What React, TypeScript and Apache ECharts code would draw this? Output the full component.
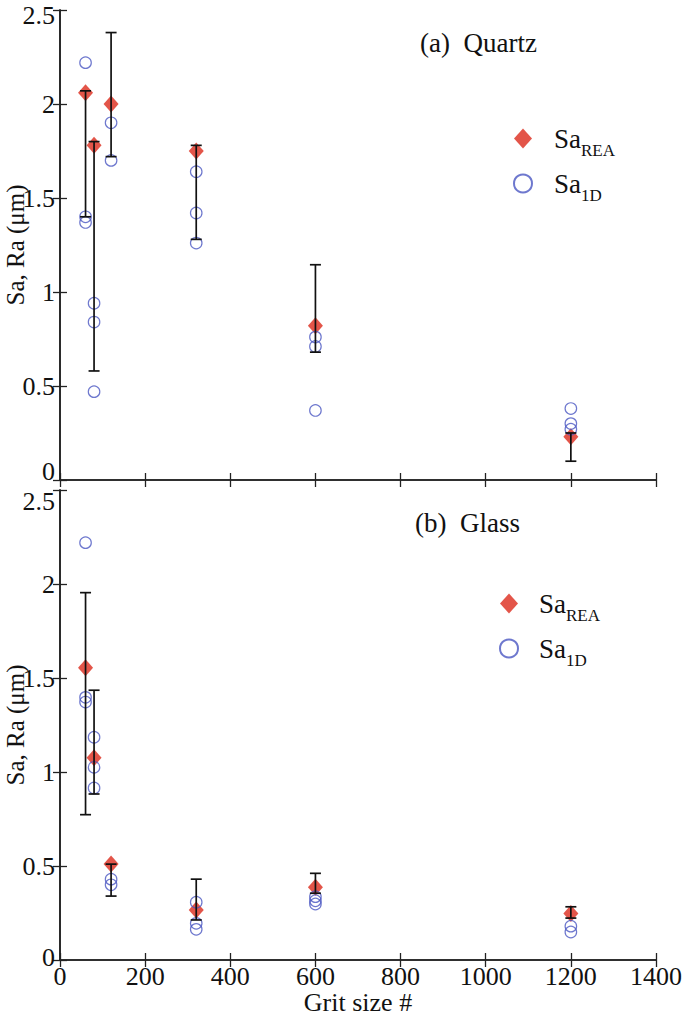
import React, { useEffect, useRef } from "react";
import * as echarts from "echarts";

// ---- data ----
const grit = [60, 80, 120, 320, 600, 1200];
const xTicks = [0, 200, 400, 600, 800, 1000, 1200, 1400];
const yTicks = [0, 0.5, 1, 1.5, 2, 2.5];

// Quartz (panel a)
const saReaQuartz = [2.06, 1.78, 2.0, 1.75, 0.82, 0.23];
const errLowQuartz = [1.4, 0.58, 1.72, 1.28, 0.68, 0.1];
const errHighQuartz = [2.07, 1.8, 2.38, 1.78, 1.145, 0.25];
const sa1dQuartz = [
  [2.22, 1.4, 1.37],
  [0.94, 0.84, 0.47],
  [1.9, 1.7],
  [1.64, 1.42, 1.26],
  [0.76, 0.71, 0.37],
  [0.38, 0.3, 0.27],
];

// Glass (panel b)
const saReaGlass = [1.555, 1.076, 0.51, 0.266, 0.387, 0.248];
const errLowGlass = [0.773, 0.883, 0.34, 0.213, 0.355, 0.223];
const errHighGlass = [1.954, 1.435, 0.51, 0.43, 0.461, 0.283];
const sa1dGlass = [
  [2.22, 1.397, 1.372],
  [1.185, 1.025, 0.915],
  [0.43, 0.4],
  [0.307, 0.195, 0.163],
  [0.337, 0.315, 0.298],
  [0.18, 0.149],
];

const RED = "#dc2a1c";
const BLUE = "#4a56c2";
const FRAME = "#222";
const FONT = "'Liberation Serif', 'Times New Roman', serif";

const pairs = (vals: number[]) => grit.map((g, i) => [g, vals[i]]);
const flat1d = (groups: number[][]) =>
  groups.flatMap((vals, i) => vals.map((v) => [grit[i], v]));
const errData = (lo: number[], hi: number[]) => grit.map((g, i) => [g, lo[i], hi[i]]);

export default function App() {
  const ref = useRef<HTMLDivElement>(null);

  useEffect(() => {
    if (!ref.current) return;
    const chart = echarts.init(ref.current, null, { renderer: "svg" });

    const renderErr = (params: any, api: any) => {
      const x = api.value(0);
      const lo = api.coord([x, api.value(1)]);
      const hi = api.coord([x, api.value(2)]);
      const hw = 5.5;
      const st = { stroke: "#111", lineWidth: 1.7 };
      return {
        type: "group",
        children: [
          { type: "line", shape: { x1: lo[0], y1: lo[1], x2: hi[0], y2: hi[1] }, style: st },
          { type: "line", shape: { x1: lo[0] - hw, y1: lo[1], x2: lo[0] + hw, y2: lo[1] }, style: st },
          { type: "line", shape: { x1: hi[0] - hw, y1: hi[1], x2: hi[0] + hw, y2: hi[1] }, style: st },
        ],
      };
    };

    const grids = [
      { left: 60, top: 10, width: 596, height: 470, containLabel: false, outerBoundsMode: "none" },
      { left: 60, top: 490, width: 596, height: 470, containLabel: false, outerBoundsMode: "none" },
    ];

    const tickStyle = { show: true, inside: true, length: 7, lineStyle: { color: FRAME, width: 1.3 } };
    const lineStyle = { show: true, lineStyle: { color: FRAME, width: 1.6 } };
    const tickText = { color: "#111", fontFamily: FONT, fontSize: 26 };

    const xAxes: any[] = [];
    const yAxes: any[] = [];
    [0, 1].forEach((gi) => {
      xAxes.push({
        type: "value",
        gridIndex: gi,
        position: "bottom",
        min: xTicks[0],
        max: xTicks[xTicks.length - 1],
        interval: 200,
        axisLine: lineStyle,
        axisTick: tickStyle,
        splitLine: { show: false },
        axisLabel: {
          show: gi === 1,
          ...tickText,
          lineHeight: 26,
          margin: 3,
          formatter: (v: number) => String(v),
        },
        name: gi === 1 ? "Grit size #" : "",
        nameLocation: "middle",
        nameGap: 29,
        nameMoveOverlap: false,
        nameTextStyle: { color: "#111", fontFamily: FONT, fontSize: 26, lineHeight: 26 },
      });
      xAxes.push({
        type: "value",
        gridIndex: gi,
        position: "top",
        min: xTicks[0],
        max: xTicks[xTicks.length - 1],
        interval: 200,
        axisLine: lineStyle,
        axisTick: tickStyle,
        splitLine: { show: false },
        axisLabel: { show: false },
      });
      yAxes.push({
        type: "value",
        gridIndex: gi,
        position: "left",
        min: yTicks[0],
        max: yTicks[yTicks.length - 1],
        interval: 0.5,
        axisLine: lineStyle,
        axisTick: tickStyle,
        splitLine: { show: false },
        axisLabel: {
          ...tickText,
          lineHeight: 20,
          margin: 5,
          formatter: (v: number) => {
            if (v === 0) return gi === 0 ? `{up|${v}}` : `{up3|${v}}`;
            if (v === 2.5) return gi === 1 ? `{dn|${v}}` : `{dn5|${v}}`;
            return `{d|${v}}`;
          },
          rich: {
            d: { ...tickText, lineHeight: 20 },
            up: { ...tickText, lineHeight: 20, padding: [0, 0, 18, 0] },
            up3: { ...tickText, lineHeight: 20, padding: [0, 0, 6, 0] },
            dn: { ...tickText, lineHeight: 20, padding: [22, 0, 0, 0] },
            dn5: { ...tickText, lineHeight: 20, padding: [10, 0, 0, 0] },
          },
        },
        name: "Sa, Ra (μm)",
        nameLocation: "middle",
        nameGap: 32,
        nameMoveOverlap: false,
        nameTextStyle: { color: "#111", fontFamily: FONT, fontSize: 25, lineHeight: 25 },
      });
      yAxes.push({
        type: "value",
        gridIndex: gi,
        position: "right",
        min: yTicks[0],
        max: yTicks[yTicks.length - 1],
        interval: 0.5,
        axisLine: lineStyle,
        axisTick: tickStyle,
        splitLine: { show: false },
        axisLabel: { show: false },
      });
    });

    const panelSeries = (gi: number, rea: number[], lo: number[], hi: number[], d1: number[][]) => [
      {
        name: "SaREA",
        type: "scatter",
        xAxisIndex: gi * 2,
        yAxisIndex: gi * 2,
        symbol: "diamond",
        symbolSize: [15, 17],
        itemStyle: { color: RED },
        data: pairs(rea),
        z: 2,
      },
      {
        name: "Sa1D",
        type: "scatter",
        xAxisIndex: gi * 2,
        yAxisIndex: gi * 2,
        symbol: "circle",
        symbolSize: 11.5,
        itemStyle: { color: "rgba(255,255,255,0)", borderColor: BLUE, borderWidth: 1.2 },
        data: flat1d(d1),
        z: 3,
      },
      {
        name: gi === 0 ? "errQuartz" : "errGlass",
        type: "custom",
        xAxisIndex: gi * 2,
        yAxisIndex: gi * 2,
        renderItem: renderErr,
        encode: { x: 0, y: [1, 2] },
        data: errData(lo, hi),
        z: 4,
      },
    ];

    const legendFormatter = (name: string) =>
      name === "SaREA" ? "{g|}{m|Sa}{s|REA}" : "{g|}{m|Sa}{s|1D}";
    const mkLegend = (left: number, top: number, gap: number) => ({
      orient: "vertical",
      left,
      top,
      itemWidth: 18,
      itemHeight: 20,
      itemGap: 4,
      padding: 0,
      data: [
        { name: "SaREA", icon: "diamond" },
        { name: "Sa1D", icon: "circle" },
      ],
      formatter: legendFormatter,
      textStyle: {
        rich: {
          g: { width: gap },
          m: { fontFamily: FONT, fontSize: 27, lineHeight: 30, color: "#111" },
          s: { fontFamily: FONT, fontSize: 17, lineHeight: 17, padding: [24, 0, 0, 0], color: "#111" },
        },
      },
      selectedMode: false,
    });

    chart.setOption({
      animation: false,
      backgroundColor: "#fff",
      textStyle: { fontFamily: FONT },
      grid: grids,
      xAxis: xAxes,
      yAxis: yAxes,
      title: [
        { text: "(a)  Quartz", left: 420, top: 29, padding: 0, textStyle: { fontFamily: FONT, fontSize: 27, fontWeight: "normal", color: "#111" } },
        { text: "(b)  Glass", left: 415, top: 509, padding: 0, textStyle: { fontFamily: FONT, fontSize: 27, fontWeight: "normal", color: "#111" } },
      ],
      legend: [mkLegend(513, 118, 17), mkLegend(499, 583, 16)],
      series: [
        ...panelSeries(0, saReaQuartz, errLowQuartz, errHighQuartz, sa1dQuartz),
        ...panelSeries(1, saReaGlass, errLowGlass, errHighGlass, sa1dGlass),
      ],
    });

    return () => chart.dispose();
  }, []);

  return (
    <div
      ref={ref}
      style={{ position: "absolute", left: 0, top: 0, width: 685, height: 1016, background: "#fff" }}
    />
  );
}
